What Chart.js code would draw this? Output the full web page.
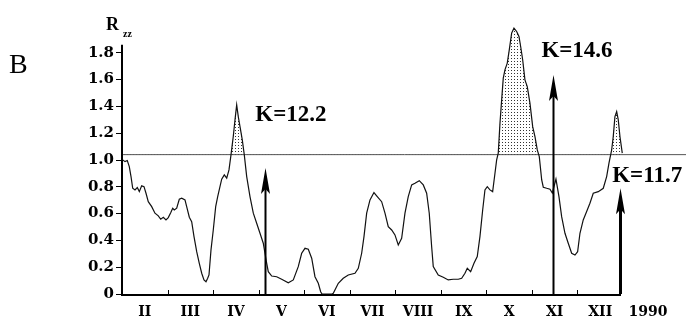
<!DOCTYPE html>
<html>
<head>
<meta charset="utf-8">
<script src="https://cdn.jsdelivr.net/npm/chart.js@4.4.0/dist/chart.umd.min.js"></script>
<style>
  html, body { margin: 0; padding: 0; background: #fff; }
</style>
</head>
<body>
<canvas id="chart" width="686" height="320"></canvas>
<script>
// months on the x axis: 1 = start of Feb, 12 = end of Dec
const monthLabels = ['II', 'III', 'IV', 'V', 'VI', 'VII', 'VIII', 'IX', 'X', 'XI', 'XII'];
const yearLabel = '1990';
const yearAt = 12.55;
const yTicks = [0, 0.2, 0.4, 0.6, 0.8, 1.0, 1.2, 1.4, 1.6, 1.8];

// R_zz curve
const monthPos = [
  1.015, 1.066, 1.116, 1.160, 1.198, 1.235, 1.285, 1.336, 1.380, 1.432, 1.483, 1.527, 1.577, 1.652, 1.724,
  1.797, 1.850, 1.907, 1.966, 2.016, 2.069, 2.113, 2.148, 2.201, 2.258, 2.311, 2.383, 2.420, 2.478, 2.530,
  2.581, 2.640, 2.697, 2.750, 2.800, 2.844, 2.881, 2.910, 2.954, 3.004, 3.057, 3.101, 3.151, 3.189, 3.246,
  3.299, 3.349, 3.393, 3.443, 3.481, 3.518, 3.553, 3.591, 3.641, 3.685, 3.738, 3.810, 3.883, 3.957, 4.030,
  4.102, 4.139, 4.177, 4.212, 4.287, 4.396, 4.506, 4.651, 4.761, 4.870, 4.945, 5.018, 5.090, 5.165, 5.237,
  5.310, 5.362, 5.391, 5.610, 5.639, 5.749, 5.858, 5.968, 6.115, 6.188, 6.262, 6.313, 6.372, 6.445, 6.532,
  6.605, 6.701, 6.774, 6.846, 6.921, 6.993, 7.066, 7.140, 7.213, 7.285, 7.360, 7.432, 7.527, 7.615, 7.689,
  7.746, 7.799, 7.834, 7.944, 8.054, 8.163, 8.273, 8.383, 8.458, 8.530, 8.581, 8.655, 8.728, 8.800, 8.859,
  8.919, 8.969, 9.020, 9.079, 9.138, 9.189, 9.226, 9.261, 9.299, 9.336, 9.371, 9.408, 9.459, 9.503, 9.555,
  9.606, 9.665, 9.716, 9.753, 9.797, 9.847, 9.898, 9.957, 10.017, 10.067, 10.118, 10.162, 10.215, 10.250, 10.325,
  10.397, 10.448, 10.528, 10.594, 10.653, 10.726, 10.798, 10.873, 10.945, 11.004, 11.055, 11.127, 11.202, 11.274, 11.347,
  11.457, 11.567, 11.641, 11.692, 11.751, 11.786, 11.823, 11.861, 11.896, 11.933, 11.984
];
const rzz = [
  1.001, 0.988, 0.996, 0.951, 0.876, 0.789, 0.777, 0.794, 0.764, 0.807, 0.801, 0.752, 0.689, 0.652, 0.603,
  0.583, 0.558, 0.573, 0.553, 0.570, 0.607, 0.640, 0.627, 0.640, 0.707, 0.715, 0.702, 0.652, 0.573, 0.540,
  0.428, 0.316, 0.229, 0.155, 0.105, 0.092, 0.117, 0.142, 0.329, 0.478, 0.652, 0.727, 0.801, 0.857, 0.889,
  0.864, 0.926, 1.038, 1.175, 1.299, 1.411, 1.324, 1.249, 1.150, 1.038, 0.876, 0.727, 0.603, 0.528, 0.453,
  0.379, 0.304, 0.229, 0.167, 0.134, 0.129, 0.110, 0.084, 0.105, 0.204, 0.304, 0.341, 0.334, 0.267, 0.129,
  0.080, 0.017, 0.000, 0.000, 0.005, 0.080, 0.117, 0.142, 0.155, 0.192, 0.304, 0.428, 0.603, 0.702, 0.757,
  0.727, 0.689, 0.603, 0.503, 0.478, 0.441, 0.366, 0.416, 0.603, 0.727, 0.814, 0.827, 0.846, 0.814, 0.752,
  0.603, 0.353, 0.204, 0.142, 0.125, 0.105, 0.110, 0.110, 0.117, 0.155, 0.192, 0.167, 0.229, 0.279, 0.428,
  0.627, 0.777, 0.801, 0.777, 0.764, 0.901, 1.001, 1.051, 1.275, 1.449, 1.611, 1.673, 1.723, 1.822, 1.947,
  1.984, 1.959, 1.922, 1.847, 1.748, 1.598, 1.548, 1.424, 1.249, 1.175, 1.075, 1.025, 0.851, 0.797, 0.789,
  0.782, 0.754, 0.857, 0.727, 0.577, 0.453, 0.379, 0.304, 0.291, 0.316, 0.453, 0.553, 0.615, 0.677, 0.752,
  0.764, 0.789, 0.876, 0.976, 1.075, 1.175, 1.324, 1.361, 1.299, 1.175, 1.051
];

const threshold = 1.04;
const thresholdEnd = 13.4;
const yAxisTop = 1.86;

// K arrows
const arrowLabels = ['K=12.2', 'K=14.6', 'K=11.7'];
const arrowMonth = [4.14, 10.46, 11.93];
const arrowTop = [0.94, 1.635, 0.79];
const labelMonth = [4.71, 10.99, 12.53];
const labelValue = [1.29, 1.77, 0.836];
const arrowWidths = [2, 2, 3];

function dotPattern() {
  const c = document.createElement('canvas');
  c.width = 3; c.height = 3;
  const g = c.getContext('2d');
  g.fillStyle = '#333';
  g.fillRect(1, 1, 1, 1);
  return g.createPattern(c, 'repeat');
}

const decor = {
  id: 'decor',
  afterDraw(chart) {
    const ctx = chart.ctx;
    const x = chart.scales.x, y = chart.scales.y;
    const y0 = y.getPixelForValue(0);
    ctx.save();
    ctx.strokeStyle = '#000';
    ctx.fillStyle = '#000';

    // axis lines
    ctx.lineWidth = 2;
    ctx.beginPath();
    ctx.moveTo(x.left, y.getPixelForValue(yAxisTop));
    ctx.lineTo(x.left, y0 + 1);
    ctx.lineTo(x.right - 2, y0 + 1);
    ctx.stroke();

    // month boundary ticks
    ctx.lineWidth = 1;
    for (let m = 2; m <= 11; m++) {
      const px = Math.round(x.getPixelForValue(m)) + 0.5;
      ctx.beginPath();
      ctx.moveTo(px, y0);
      ctx.lineTo(px, y0 - 4);
      ctx.stroke();
    }

    // arrows
    arrowMonth.forEach((m, i) => {
      const px = Math.round(x.getPixelForValue(m)) + 0.5;
      const tip = y.getPixelForValue(arrowTop[i]);
      ctx.lineWidth = arrowWidths[i];
      ctx.beginPath();
      ctx.moveTo(px, y0);
      ctx.lineTo(px, tip + 18);
      ctx.stroke();
      ctx.beginPath();
      ctx.moveTo(px, tip);
      ctx.lineTo(px + 4.5, tip + 26);
      ctx.lineTo(px, tip + 21);
      ctx.lineTo(px - 4.5, tip + 26);
      ctx.closePath();
      ctx.fill();

      ctx.font = 'bold 23px "Liberation Serif"';
      ctx.textAlign = 'center';
      ctx.textBaseline = 'alphabetic';
      ctx.fillText(arrowLabels[i], x.getPixelForValue(labelMonth[i]), y.getPixelForValue(labelValue[i]));
    });

    // panel letter and axis title
    ctx.textAlign = 'left';
    ctx.font = '28px "Liberation Serif"';
    ctx.fillText('B', 9, 73);
    ctx.font = 'bold 18px "Liberation Serif"';
    ctx.fillText('R', 106, 30);
    ctx.font = 'bold 10px "Liberation Serif"';
    ctx.fillText('zz', 123, 37);
    ctx.restore();
  }
};

new Chart(document.getElementById('chart'), {
  type: 'line',
  data: {
    datasets: [
      {
        data: monthPos.map((m, i) => ({ x: m, y: rzz[i] })),
        borderColor: '#111',
        borderWidth: 1.2,
        pointRadius: 0,
        tension: 0,
        fill: { target: { value: threshold }, above: dotPattern(), below: 'rgba(0,0,0,0)' }
      },
      {
        data: [{ x: 1, y: threshold }, { x: thresholdEnd, y: threshold }],
        borderColor: '#555',
        borderWidth: 1,
        pointRadius: 0,
        clip: false,
        fill: false
      }
    ]
  },
  options: {
    responsive: false,
    animation: false,
    devicePixelRatio: 1,
    layout: { padding: { top: 26, right: 63, left: 0, bottom: 0 } },
    plugins: { legend: { display: false }, tooltip: { enabled: false } },
    scales: {
      x: {
        type: 'linear',
        min: 1,
        max: 12,
        grid: { display: false, drawTicks: false },
        border: { display: false },
        afterBuildTicks: s => {
          s.ticks = monthLabels.map((l, i) => ({ value: i + 1.5 })).concat([{ value: yearAt }]);
        },
        afterFit: s => { s.height = 26; },
        ticks: {
          autoSkip: false,
          maxRotation: 0,
          padding: 10,
          color: '#000',
          font: { family: 'DejaVu Serif', weight: 'bold', size: 14 },
          callback: (v, i) => (i < monthLabels.length ? monthLabels[i] : yearLabel)
        }
      },
      y: {
        min: 0,
        max: 2.0,
        afterBuildTicks: s => { s.ticks = yTicks.map(v => ({ value: v })); },
        afterFit: s => { s.width = 122; },
        grid: { drawOnChartArea: false, drawTicks: true, tickLength: 6, color: '#000', lineWidth: 1 },
        border: { display: false },
        ticks: {
          padding: 2,
          color: '#000',
          font: { family: 'DejaVu Serif', weight: 'bold', size: 15 },
          callback: v => (v === 0 ? '0' : v.toFixed(1))
        }
      }
    }
  },
  plugins: [decor]
});
</script>
</body>
</html>
